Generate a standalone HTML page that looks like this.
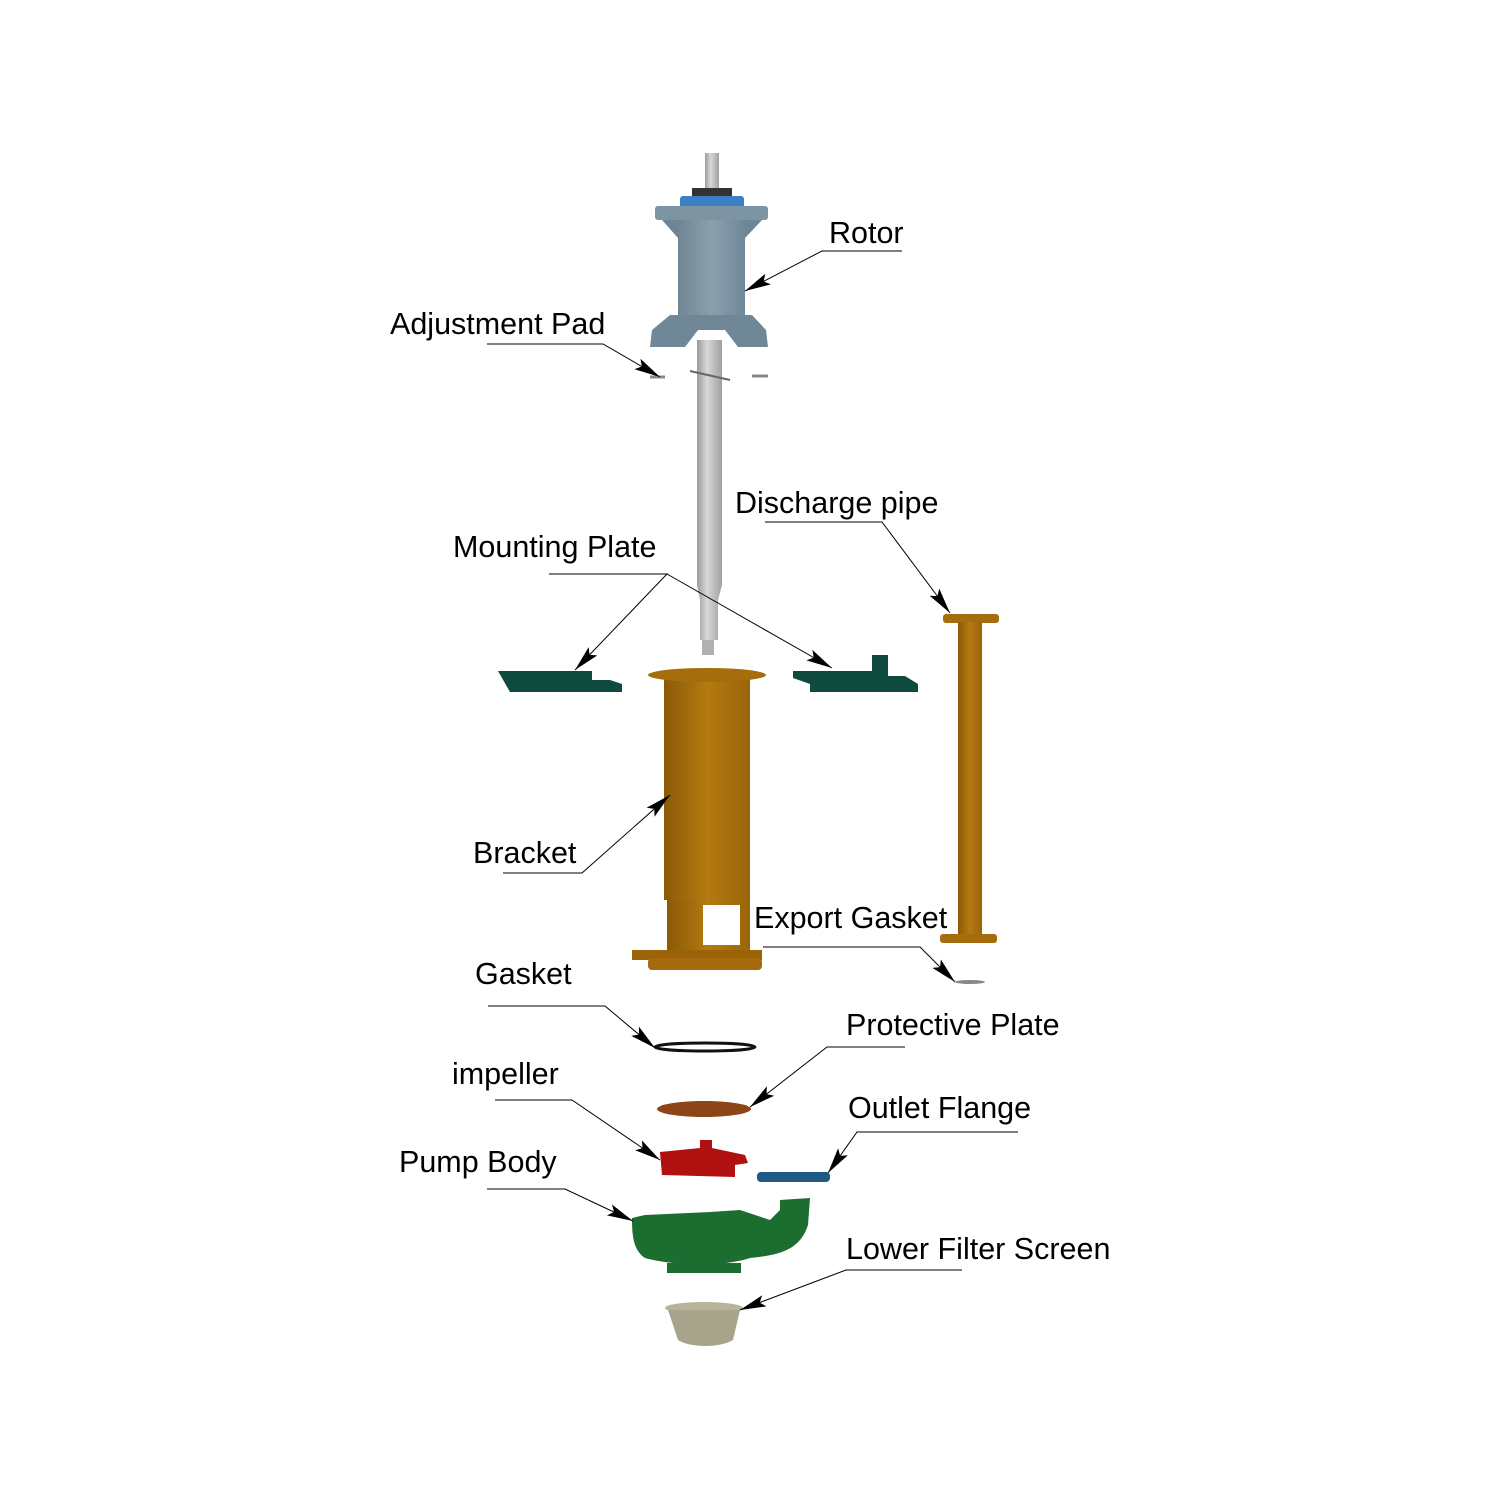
<!DOCTYPE html>
<html><head><meta charset="utf-8"><style>
html,body{margin:0;padding:0;background:#fff;}
svg{display:block}
text{font-family:"Liberation Sans",Arial,sans-serif;font-size:30.5px;fill:#000}
</style></head><body>
<svg width="1500" height="1500" viewBox="0 0 1500 1500" xmlns="http://www.w3.org/2000/svg">
<defs>
<marker id="ar" viewBox="0 0 26 26" refX="26" refY="13" markerWidth="26" markerHeight="26" markerUnits="userSpaceOnUse" orient="auto">
<path d="M0,7 L26,13 L0,19 L5,13 Z" fill="#000"/></marker>
<linearGradient id="sh" x1="0" x2="1"><stop offset="0" stop-color="#9a9a9a"/><stop offset="0.4" stop-color="#d8d8d8"/><stop offset="1" stop-color="#a0a0a0"/></linearGradient>
<linearGradient id="or" x1="0" x2="1"><stop offset="0" stop-color="#8a5a06"/><stop offset="0.5" stop-color="#b57a10"/><stop offset="1" stop-color="#99650a"/></linearGradient>
<linearGradient id="bl" x1="0" x2="1"><stop offset="0" stop-color="#6f8593"/><stop offset="0.5" stop-color="#8aa0ad"/><stop offset="1" stop-color="#70889a"/></linearGradient>
</defs>

<!-- shaft -->
<rect x="705" y="153" width="14" height="40" fill="url(#sh)"/>
<rect x="697" y="340" width="25" height="245" fill="url(#sh)"/>
<path d="M697,585 L722,585 L718,600 L718,640 L700,640 L700,600 Z" fill="url(#sh)"/>
<rect x="702" y="640" width="12" height="15" fill="#b0b0b0"/>
<line x1="690" y1="371" x2="730" y2="380" stroke="#666" stroke-width="2"/>
<line x1="650" y1="377" x2="665" y2="377" stroke="#888" stroke-width="3"/>
<line x1="752" y1="376" x2="768" y2="376" stroke="#888" stroke-width="3"/>
<!-- rotor -->
<rect x="692" y="188" width="40" height="10" fill="#333"/>
<rect x="680" y="196" width="64" height="12" rx="3" fill="#3d7fc4"/>
<rect x="655" y="206" width="113" height="14" rx="3" fill="#7d94a2"/>
<path d="M662,220 L678,238 L745,238 L762,220Z" fill="#6e8594"/>
<rect x="678" y="220" width="67" height="100" fill="url(#bl)"/>
<path d="M670,315 L752,315 L766,330 L768,347 L738,347 L725,330 L698,330 L685,347 L650,347 L652,330Z" fill="#6f8797"/>
<!-- mounting plates -->
<path d="M498,671 L592,671 L592,680 L610,680 L622,684 L622,692 L510,692 Z" fill="#0e4a3e"/>
<path d="M793,671 L872,671 L872,655 L888,655 L888,676 L905,676 L918,684 L918,692 L810,692 L810,684 L793,678 Z" fill="#0e4a3e"/>
<!-- bracket -->
<rect x="664" y="678" width="86" height="222" fill="url(#or)"/>
<ellipse cx="707" cy="675" rx="59" ry="7" fill="#a56d0c"/>
<rect x="667" y="900" width="83" height="50" fill="url(#or)"/>
<rect x="703" y="905" width="37" height="40" fill="#fff"/>
<rect x="632" y="950" width="130" height="10" fill="#9a6308"/>
<rect x="648" y="958" width="114" height="12" rx="4" fill="#a46a0c"/>
<!-- discharge pipe -->
<rect x="943" y="614" width="56" height="9" rx="3" fill="#a56d0c"/>
<rect x="958" y="622" width="24" height="314" fill="url(#or)"/>
<rect x="940" y="934" width="57" height="9" rx="3" fill="#a56d0c"/>
<ellipse cx="970" cy="982" rx="15" ry="2" fill="#888"/>
<!-- gasket -->
<ellipse cx="705" cy="1047" rx="50" ry="4" fill="none" stroke="#111" stroke-width="3"/>
<!-- protective plate -->
<ellipse cx="704" cy="1109" rx="47" ry="8" fill="#8b4516"/>
<!-- impeller -->
<path d="M660,1152 L700,1148 L700,1140 L712,1140 L712,1148 L745,1155 L748,1163 L735,1165 L735,1177 L662,1175 Z" fill="#b01010"/>
<!-- outlet flange -->
<rect x="757" y="1172" width="73" height="10" rx="4" fill="#1f5a86"/>
<!-- pump body -->
<path d="M632,1218 L645,1215 L710,1212 L740,1210 L770,1220 L780,1210 L780,1200 L810,1198 L808,1225 C800,1250 780,1255 750,1258 C720,1268 670,1265 645,1258 C633,1250 632,1235 632,1218Z" fill="#1b6e30"/>
<rect x="667" y="1263" width="74" height="10" fill="#1b6e30"/>
<!-- filter -->
<ellipse cx="704" cy="1308" rx="39" ry="6" fill="#b8b49c"/>
<path d="M668,1310 L740,1310 L733,1340 C720,1348 690,1348 678,1340 Z" fill="#a8a48c"/>

<!-- leaders -->
<g stroke="#000" stroke-width="1" fill="none">
<polyline points="902,251 822,251 745,291" marker-end="url(#ar)"/>
<polyline points="487,344 603,344 660,377" marker-end="url(#ar)"/>
<polyline points="765,522 882,522 950,613" marker-end="url(#ar)"/>
<polyline points="549,574 667,574 575,670" marker-end="url(#ar)"/>
<polyline points="667,574 832,668" marker-end="url(#ar)"/>
<polyline points="503,873 582,873 670,795" marker-end="url(#ar)"/>
<polyline points="763,947 920,947 955,982" marker-end="url(#ar)"/>
<polyline points="488,1006 605,1006 655,1048" marker-end="url(#ar)"/>
<polyline points="905,1047 827,1047 750,1107" marker-end="url(#ar)"/>
<polyline points="495,1100 572,1100 660,1160" marker-end="url(#ar)"/>
<polyline points="1018,1132 857,1132 828,1173" marker-end="url(#ar)"/>
<polyline points="487,1189 565,1189 633,1221" marker-end="url(#ar)"/>
<polyline points="962,1270 846,1270 740,1310" marker-end="url(#ar)"/>
</g>

<text x="829" y="243">Rotor</text>
<text x="390" y="334">Adjustment Pad</text>
<text x="735" y="513">Discharge pipe</text>
<text x="453" y="557">Mounting Plate</text>
<text x="473" y="863">Bracket</text>
<text x="754" y="928">Export Gasket</text>
<text x="475" y="984">Gasket</text>
<text x="846" y="1035">Protective Plate</text>
<text x="452" y="1084">impeller</text>
<text x="848" y="1118">Outlet Flange</text>
<text x="399" y="1172">Pump Body</text>
<text x="846" y="1259">Lower Filter Screen</text>
</svg>
</body></html>
